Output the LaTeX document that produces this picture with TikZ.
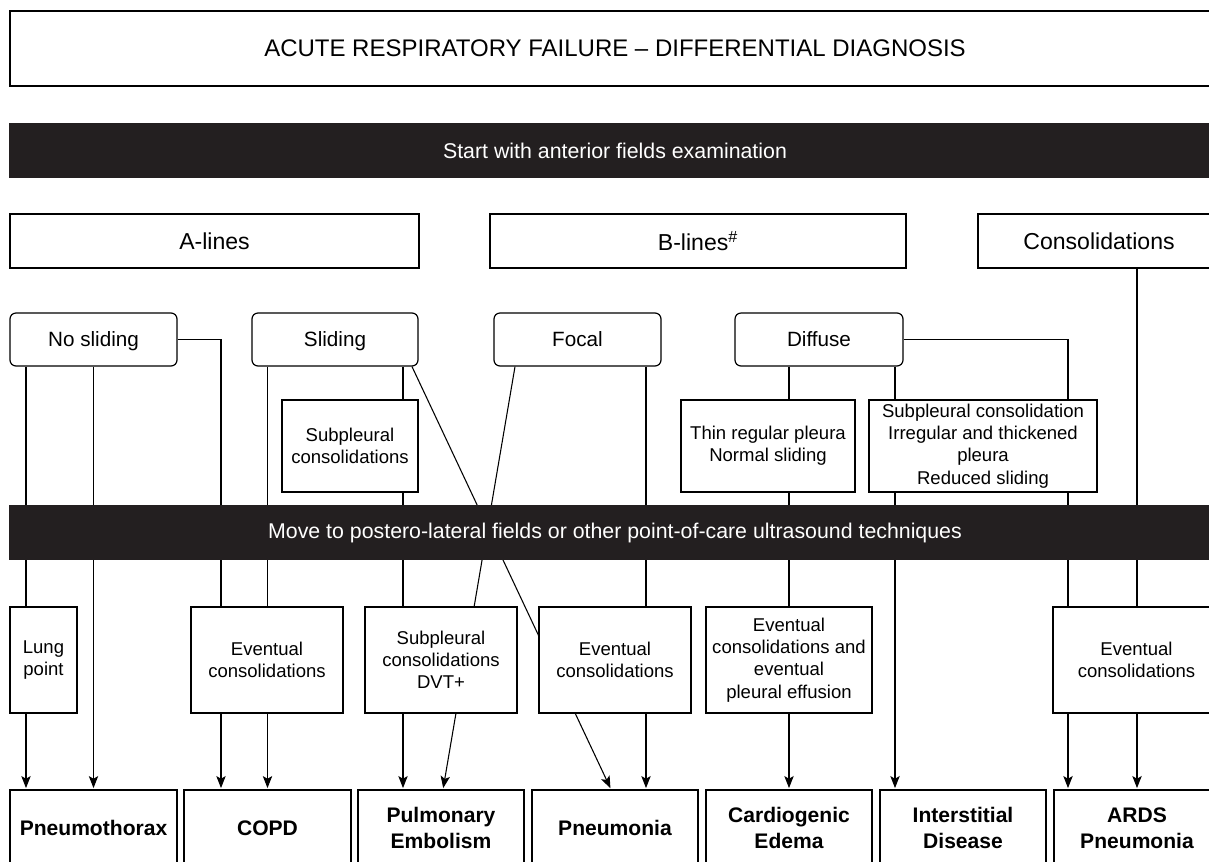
\documentclass[tikz,border=0pt]{standalone}
\usepackage{fontspec}
\setmainfont{Liberation Sans}
\usetikzlibrary{arrows.meta,backgrounds}
\definecolor{barblack}{HTML}{231F20}

\begin{document}
\begin{tikzpicture}[x=0.75pt,y=-0.75pt,>={Stealth[length=9pt,width=7pt,inset=2pt]},shorten >=1pt,
  base box/.style={draw,line width=0.9pt,fill=white,align=center,inner sep=0pt},
  size/.style 2 args={minimum width=#1*0.75pt,minimum height=#2*0.75pt},
  title box/.style={base box,font=\fontsize{18}{22}\selectfont},
  dark bar/.style={base box,draw=barblack,fill=barblack,text=white,font=\fontsize{16}{19}\selectfont},
  sign box/.style={base box,font=\fontsize{17.3}{21}\selectfont},
  branch box/.style={base box,rounded corners=4.5pt,text height=11pt,text depth=0pt,font=\fontsize{15.5}{19}\selectfont},
  note box/.style={base box,font=\fontsize{13.9}{16.7}\selectfont},
  diag box/.style={base box,font=\fontsize{15.8}{19.5}\selectfont\bfseries},
  link/.style={line width=0.8pt}]
    \useasboundingbox (0,0) rectangle (1209,861);
    \clip (0,0) rectangle (1209,861);

    \node[title box,size={1210}{75}] (title) at (615,48.5) {ACUTE RESPIRATORY FAILURE -- DIFFERENTIAL DIAGNOSIS};
    \node[dark bar,size={1210}{53}] (start) at (615,150.5) {Start with anterior fields examination};

    \node[sign box,size={409}{54}] (alines) at (214.5,241) {A-lines};
    \node[sign box,size={416}{54}] (blines) at (698,241) {B-lines\textsuperscript{\#}};
    \node[sign box,size={242}{54}] (consol) at (1099,241) {Consolidations};

    \node[branch box,size={167}{53}] (nosl) at (93.5,339.5) {No sliding};
    \node[branch box,size={166}{53}] (slid) at (335,339.5) {Sliding};
    \node[branch box,size={167}{53}] (focal) at (577.5,339.5) {Focal};
    \node[branch box,size={168}{53}] (diff) at (819,339.5) {Diffuse};

    \node[note box,size={136}{92}] (subc) at (350,446) {Subpleural\\consolidations};
    \node[note box,size={174}{92}] (thin) at (768,446) {Thin regular pleura\\Normal sliding};
    \node[note box,size={228}{92}] (subirr) at (983,446) {Subpleural consolidation\\Irregular and thickened\\pleura\\Reduced sliding};

    \node[dark bar,size={1210}{53}] (move) at (615,532.5) {Move to postero-lateral fields or other point-of-care ultrasound techniques};

    \node[note box,size={67}{106}] (lung) at (43.5,660) {Lung\\point};
    \node[note box,size={152}{106}] (copdev) at (267,660) {Eventual\\consolidations};
    \node[note box,size={152}{106}] (peev) at (441,660) {Subpleural\\consolidations\\DVT+};
    \node[note box,size={152}{106}] (pnev) at (615,660) {Eventual\\consolidations};
    \node[note box,size={166}{106}] (cardev) at (789,660) {Eventual\\consolidations and\\eventual\\pleural effusion};
    \node[note box,size={167}{106}] (ardsev) at (1136.5,660) {Eventual\\consolidations};

    \node[diag box,size={167}{76}] (ptx) at (93.5,828) {Pneumothorax};
    \node[diag box,size={167}{76}] (copd) at (267.5,828) {COPD};
    \node[diag box,size={166}{76}] (pe) at (441,828) {Pulmonary\\Embolism};
    \node[diag box,size={166}{76}] (pneu) at (615,828) {Pneumonia};
    \node[diag box,size={166}{76}] (card) at (789,828) {Cardiogenic\\Edema};
    \node[diag box,size={166}{76}] (inter) at (963,828) {Interstitial\\Disease};
    \node[diag box,size={166}{76}] (ards) at (1137,828) {ARDS\\Pneumonia};

    \coordinate (c1) at (26,0);
    \coordinate (c3) at (221,0);
    \coordinate (c5) at (403,0);
    \coordinate (c6) at (646,0);
    \coordinate (c8) at (895,0);
    \coordinate (c9) at (1068,0);
    \coordinate (sd) at (412,0);
    \coordinate (sa) at (611,0);
    \coordinate (fd) at (515,0);
    \coordinate (fa) at (443,0);

    \begin{scope}[on background layer]
    \path[->,link]
        (consol.south -| ards.north) edge (ards.north)
        (nosl.south -| c1) edge (ptx.north -| c1)
        (nosl.south) edge (ptx.north)
        (slid.south -| copd.north) edge (copd.north)
        (slid.south -| c5) edge (pe.north -| c5)
        (slid.south -| sd) edge (pneu.north -| sa)
        (focal.south -| fd) edge (pe.north -| fa)
        (focal.south -| c6) edge (pneu.north -| c6)
        (diff.south -| card.north) edge (card.north)
        (diff.south -| c8) edge (inter.north -| c8)
    ;
    \draw[->,link] (nosl.east) -| (copd.north -| c3);
    \draw[->,link] (diff.east) -| (ards.north -| c9);
    \end{scope}
\end{tikzpicture}
\end{document}
